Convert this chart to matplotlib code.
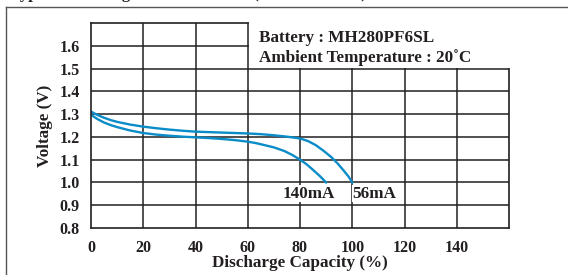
import matplotlib
matplotlib.use('Agg')
from matplotlib import pyplot as plt
from matplotlib.patches import Rectangle
from matplotlib.lines import Line2D

# discharge curves (capacity %, volts)
cap_56mA = [0, 2.5, 5, 7.5, 10, 15, 20, 25, 30, 35, 40, 45, 50, 55, 60, 65, 70, 75, 80,
            83, 86, 89, 92, 94.5, 96.5, 98.5, 100]
volt_56mA = [1.311, 1.296, 1.284, 1.274, 1.266, 1.254, 1.245, 1.238, 1.232, 1.227, 1.223,
             1.221, 1.219, 1.217, 1.215, 1.212, 1.207, 1.201, 1.193,
             1.182, 1.164, 1.139, 1.111, 1.082, 1.055, 1.027, 1.0]
cap_140mA = [0, 2.5, 5, 7.5, 10, 15, 20, 25, 30, 35, 40, 45, 50, 55, 60, 63, 66, 70, 74,
             77, 80, 82.5, 85, 87.5, 90]
volt_140mA = [1.297, 1.278, 1.263, 1.252, 1.243, 1.228, 1.217, 1.21, 1.205, 1.201, 1.198,
              1.195, 1.191, 1.186, 1.179, 1.173, 1.165, 1.154, 1.138,
              1.121, 1.1, 1.08, 1.055, 1.029, 1.0]

x_ticks = [0, 20, 40, 60, 80, 100, 120, 140]
y_ticks = [0.8, 0.9, 1.0, 1.1, 1.2, 1.3, 1.4, 1.5, 1.6]
grid_x = [20, 40, 60, 80, 100, 120, 140]
grid_y = [0.9, 1.0, 1.1, 1.2, 1.3, 1.4, 1.5, 1.6]

plt.rcParams['font.family'] = ['Liberation Serif', 'DejaVu Serif']
plt.rcParams['font.weight'] = 'bold'
ink = '#231f20'
blue = '#0a8cc8'

fig = plt.figure(figsize=(5.68, 2.75), dpi=100)
ax = fig.add_axes([91 / 568, 1 - 228 / 275, 418 / 568, 205 / 275])
ax.set_xlim(0, 160)
ax.set_ylim(0.8, 1.7)

for gx in grid_x:
    ax.axvline(gx, color=ink, lw=1.1, zorder=0.5)
for gy in grid_y:
    ax.axhline(gy, color=ink, lw=1.1, zorder=0.5)
for s in ax.spines.values():
    s.set_color(ink)
    s.set_linewidth(1.2)

ax.set_xticks(x_ticks)
ax.set_yticks(y_ticks)
ax.set_yticklabels(['%.1f' % v for v in y_ticks])
ax.tick_params(length=0, labelsize=11.5, pad=8, colors=ink)
ax.tick_params(axis='x', pad=9)

ax.plot(cap_56mA, volt_56mA, color=blue, lw=1.7, zorder=2)
ax.plot(cap_140mA, volt_140mA, color=blue, lw=1.7, zorder=2)

# white panel behind the battery info
ax.add_patch(Rectangle((60.3, 1.502), 101, 0.21, facecolor='white', edgecolor='none',
                       zorder=3, clip_on=False))
ax.text(64.2, 1.634, 'Battery : MH280PF6SL', fontsize=12.3, color=ink, zorder=4, va='center')
ax.text(64.2, 1.549, 'Ambient Temperature : 20\u02daC', fontsize=12.3, color=ink, zorder=4, va='center')

box = dict(facecolor='white', edgecolor='none', pad=0.3)
ax.text(83.4, 0.951, '140mA', fontsize=12.3, color=ink, ha='center', va='center', bbox=box, zorder=4)
ax.text(108.5, 0.951, '56mA', fontsize=12.3, color=ink, ha='center', va='center', bbox=box, zorder=4)

ax.set_xlabel('Discharge Capacity (%)', fontsize=12.3, fontweight='bold', color=ink, labelpad=-1)
ax.set_ylabel('Voltage (V)', fontsize=12.3, fontweight='bold', color=ink, labelpad=5)

# outer frame and clipped heading
fig.add_artist(Line2D([6 / 568, 6 / 568], [0, 1 - 7 / 275], transform=fig.transFigure,
                      color='#555555', lw=1))
fig.add_artist(Line2D([6 / 568, 1], [1 - 7 / 275, 1 - 7 / 275], transform=fig.transFigure,
                      color='#555555', lw=1))
fig.text(10 / 568, 1 + 1.5 / 275, 'Typical Discharge Characteristics (MH280PF6SL)',
         fontsize=12, fontweight='bold', color=ink, va='baseline')

fig.savefig('out.png', dpi=100)
